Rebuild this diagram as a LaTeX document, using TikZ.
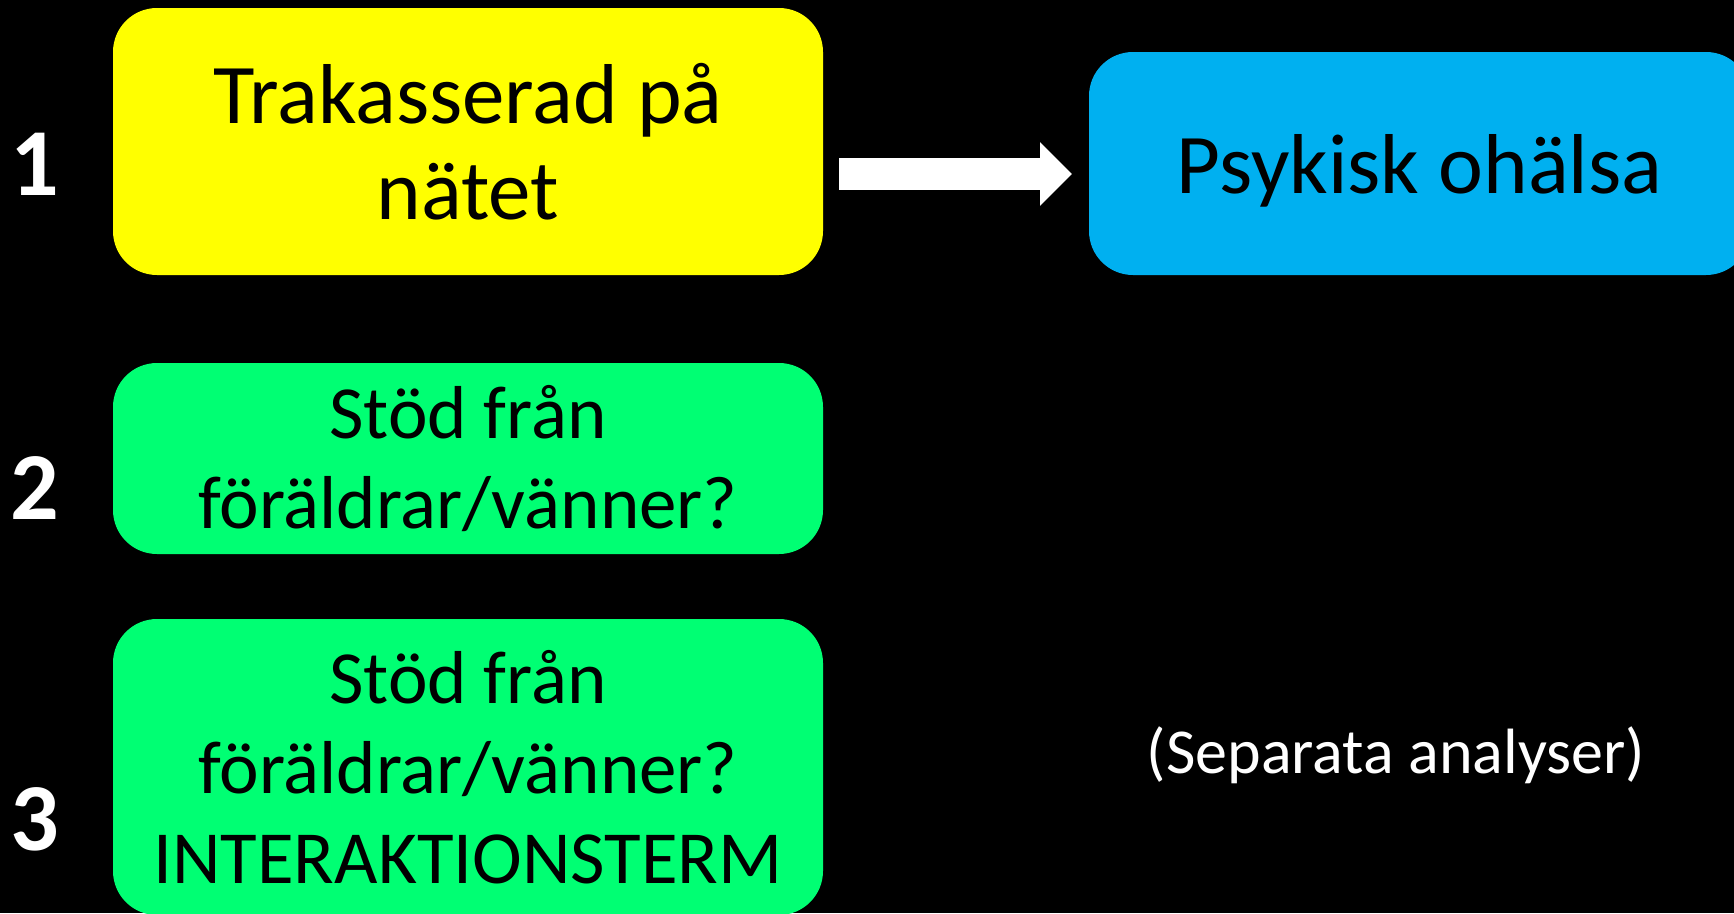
\documentclass[tikz,border=0pt]{standalone}
\usepackage{fontspec}
\setmainfont{Carlito}
\usetikzlibrary{arrows.meta}
\definecolor{yel}{RGB}{255,255,0}
\definecolor{blu}{RGB}{0,176,240}
\definecolor{grn}{RGB}{0,255,115}
\tikzset{
  box/.style={rectangle, rounded corners=44pt, inner sep=0pt, align=center, text=black},
  bigtext/.style={font=\fontsize{85}{96}\selectfont},
  midtext/.style={font=\fontsize{75}{90}\selectfont},
  num/.style={text=white, inner sep=0pt, font=\fontsize{96}{110}\selectfont\bfseries},
  fatarrow/.style={white, line width=32pt, -{Triangle[length=32pt 0 0, width=62pt 0 0]}}
}
\begin{document}
\begin{tikzpicture}[x=1pt,y=-1pt]
\useasboundingbox (0,0) rectangle (1734,913);
\clip (0,0) rectangle (1734,913);
\fill[black] (0,0) rectangle (1734,913);

\node[box, bigtext, fill=yel, minimum width=710pt, minimum height=267pt] (yellow) at (468,141.5) {Trakasserad på\\nätet};
\node[box, bigtext, fill=blu, minimum width=661pt, minimum height=223pt, text height=59pt, text depth=0pt] (blue) at (1419.5,163.5) {Psykisk ohälsa};
\node[box, midtext, fill=grn, minimum width=710pt, minimum height=191pt] (green2) at (468,458.5) {Stöd från\\föräldrar/vänner?};
\node[box, midtext, fill=grn, minimum width=710pt, minimum height=296pt] (green3) at (468,767) {Stöd från\\föräldrar/vänner?\\INTERAKTIONSTERM};

\node[num] (n1) at (35,164) {1};
\node[num] (n2) at (35,488) {2};
\node[num] (n3) at (35,819) {3};

\node[text=white, inner sep=0pt, font=\fontsize{64}{76}\selectfont] (sep) at (1396,755) {(Separata analyser)};

\coordinate (as) at (839,174);
\coordinate (ae) at (1072,174);
\draw[fatarrow] (as) -- (ae);
\end{tikzpicture}
\end{document}
